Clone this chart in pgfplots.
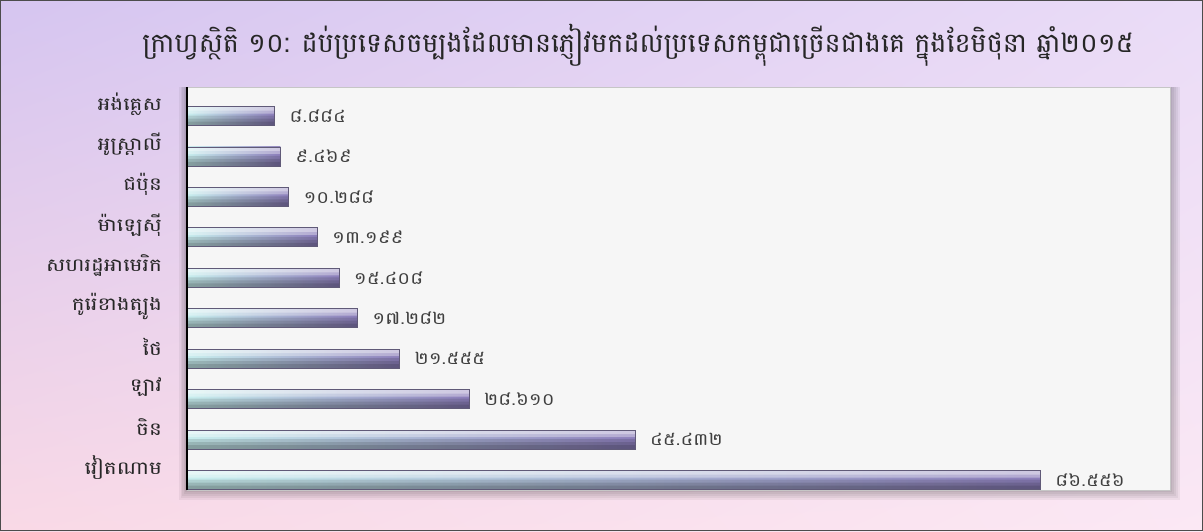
\documentclass[border=0pt]{standalone}
\usepackage{fontspec}
\setmainfont[Script=Khmer]{Battambang}
\newfontfamily\khwide[Script=Khmer, FakeStretch=1.2]{Battambang}
\newfontfamily\khnum[Script=Khmer, FakeStretch=1.15]{Battambang}
\usepackage{pgfplots}
\usepackage{pgfplotstable}
\pgfplotsset{compat=1.18}
\usetikzlibrary{shadings}
\definecolor{bgul}{RGB}{213,197,240}
\definecolor{bgur}{RGB}{234,220,247}
\definecolor{bgll}{RGB}{249,217,230}
\definecolor{bglr}{RGB}{251,232,244}
\definecolor{barleft}{RGB}{200,238,238}
\definecolor{barmid}{RGB}{188,228,240}
\definecolor{barright}{RGB}{140,126,186}
\definecolor{baredge}{RGB}{96,90,120}
\definecolor{plotbg}{RGB}{246,246,246}

% visitors in June 2015, thousands
\pgfplotstableread{
val    pos lab
8.884  1   ៨.៨៨៤
9.469  2   ៩.៤៦៩
10.288 3   ១០.២៨៨
13.199 4   ១៣.១៩៩
15.408 5   ១៥.៤០៨
17.282 6   ១៧.២៨២
21.555 7   ២១.៥៥៥
28.610 8   ២៨.៦១០
45.432 9   ៤៥.៤៣២
86.556 10  ៨៦.៥៥៦
}\visitors

% 1 px of the reference = 0.5pt
\begin{document}
\begin{tikzpicture}
% background of the whole picture
\shade[upper left=bgul, upper right=bgur, lower left=bgll, lower right=bglr]
  (0,0) rectangle (601.5pt,265.5pt);
\draw[gray!60!black, line width=0.6pt] (0.3pt,0.3pt) rectangle (601.2pt,265.2pt);
% soft shadow round the plot area
\foreach \d in {1,2,3,4,5} {
  \fill[black, opacity=0.05] (93.5pt-\d*0.8pt,20.5pt-\d*1pt) rectangle (585pt+\d*1pt,222pt);
}
\node[font=\fontsize{13.5}{15}\selectfont, text=black!85] at (319pt,243pt)
  {ក្រាហ្វស្ថិតិ ១០: ដប់ប្រទេសចម្បងដែលមានភ្ញៀវមកដល់ប្រទេសកម្ពុជាច្រើនជាងគេ ក្នុងខែមិថុនា ឆ្នាំ២០១៥};
\begin{axis}[
    at={(93.5pt,20.5pt)}, anchor=south west,
    scale only axis,
    width=491.5pt, height=201.5pt,
    xbar, bar width=9.5pt,
    xmin=0, xmax=99.7,
    ymin=0.283, ymax=10.247,
    y dir=reverse,
    axis background/.style={fill=plotbg},
    axis line style={draw=gray!45},
    xtick=\empty,
    ytick={0.7,1.7,2.7,3.7,4.7,5.7,6.7,7.7,8.7,9.7},
    yticklabels={អង់គ្លេស, អូស្ត្រាលី, ជប៉ុន, ម៉ាឡេស៊ី, សហរដ្ឋអាមេរិក, កូរ៉េខាងត្បូង, ថៃ, ឡាវ, ចិន, វៀតណាម},
    major tick length=0pt,
    yticklabel style={font=\khwide\fontsize{9}{10}\selectfont, text=black!85, xshift=-9pt},
    base/.style={draw=none, bar shift=0pt, shade,
      left color=barleft, middle color=barmid, right color=barright},
    band/.style={draw=none, bar shift=#1},
    clip=false,
]
% one plot per bar, so that each bar gets its own shading
\pgfplotsinvokeforeach{0.8:1.2, 1.8:2.2, 2.8:3.2, 3.8:4.2, 4.8:5.2,
    5.8:6.2, 6.8:7.2, 7.8:8.2, 8.8:9.2, 9.8:10.2}{
  \addplot[base] table[x=val, y=pos, restrict y to domain=#1] {\visitors};
}
% bevel: light bands at the top, dark bands at the bottom
\addplot[band=3pt, bar width=3.5pt, fill=white, fill opacity=0.35] table[x=val, y=pos] {\visitors};
\addplot[band=3.75pt, bar width=2pt, fill=white, fill opacity=0.35] table[x=val, y=pos] {\visitors};
\addplot[band=-2.25pt, bar width=5pt, fill=black, fill opacity=0.12] table[x=val, y=pos] {\visitors};
\addplot[band=-3pt, bar width=3.5pt, fill=black, fill opacity=0.12] table[x=val, y=pos] {\visitors};
\addplot[band=-3.75pt, bar width=2pt, fill=black, fill opacity=0.12] table[x=val, y=pos] {\visitors};
% outline and value labels
\addplot[bar shift=0pt, draw=baredge, line width=0.4pt, fill=none,
    point meta=explicit symbolic, nodes near coords,
    every node near coord/.append style={anchor=west, xshift=4pt,
      font=\khnum\fontsize{8.5}{9}\selectfont, text=black!75}]
  table[x=val, y=pos, meta=lab] {\visitors};
\draw[black, line width=0.9pt] (rel axis cs:0,0) -- (rel axis cs:0,1);
\end{axis}
\end{tikzpicture}
\end{document}
